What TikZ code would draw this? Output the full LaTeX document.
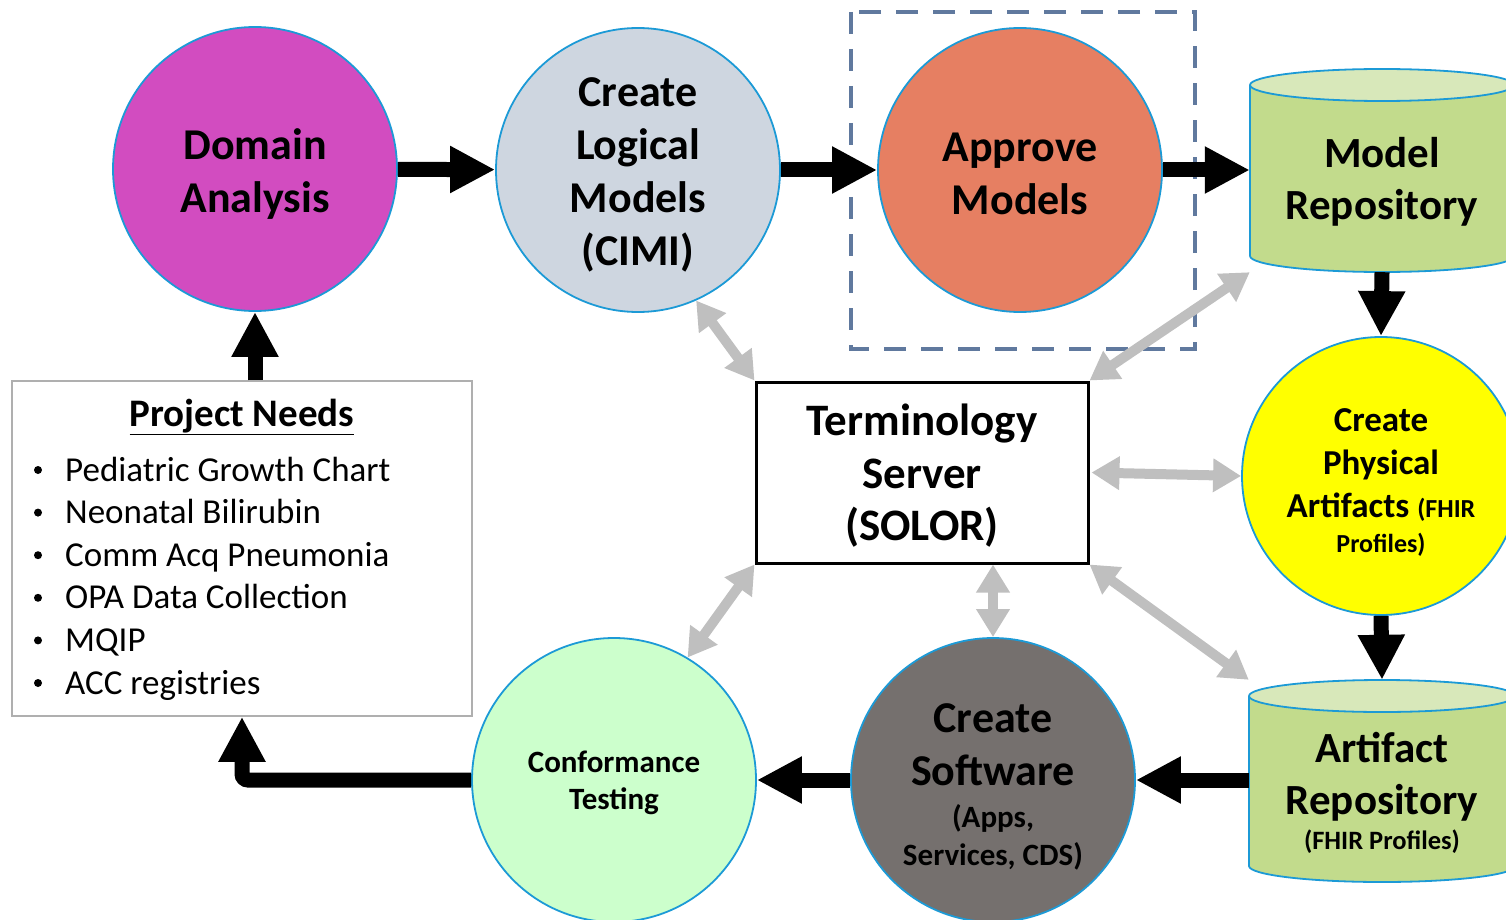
\documentclass[tikz,border=0pt]{standalone}
\usepackage{fontspec}
\setmainfont{Carlito}
\usetikzlibrary{arrows.meta,calc}

\definecolor{edgeblue}{RGB}{28,154,214}
\definecolor{dompink}{RGB}{210,76,192}
\definecolor{logicgrey}{RGB}{206,214,224}
\definecolor{approvesalmon}{RGB}{230,127,98}
\definecolor{physyellow}{RGB}{255,255,0}
\definecolor{softgrey}{RGB}{117,112,110}
\definecolor{confgreen}{RGB}{204,255,204}
\definecolor{cylbody}{RGB}{194,219,140}
\definecolor{cyltop}{RGB}{216,232,186}
\definecolor{dashblue}{RGB}{96,121,158}
\definecolor{linkgrey}{RGB}{191,191,191}
\definecolor{boxgrey}{RGB}{175,175,175}

\tikzset{
  stage/.style={circle, draw=edgeblue, line width=1.8pt, minimum size=284pt, inner sep=0pt},
  stagetext/.style={align=center, inner sep=0pt, font=\bfseries\fontsize{44}{53}\selectfont},
  flow/.style={line width=15pt, -{Triangle[length=45pt,width=44pt]}},
  link/.style={line width=10pt, draw=linkgrey,
    {Triangle[length=28pt,width=32pt]}-{Triangle[length=28pt,width=32pt]}},
  cylside/.style={draw=edgeblue, line width=1.8pt},
  needitem/.style={anchor=base west, inner sep=0pt, font=\fontsize{35}{42}\selectfont},
  needdot/.style={circle, fill=black, inner sep=0pt, minimum size=8pt},
}

\begin{document}
\begin{tikzpicture}[x=1pt, y=-1pt]
\useasboundingbox (0,0) rectangle (1506,920);

% ---------- repository cylinders ----------
\fill[cylbody] (1250,85) -- (1250,256)
  arc[start angle=180, end angle=0, x radius=132, y radius=16] -- (1514,85) -- cycle;
\draw[cylside] (1250,85) -- (1250,256)
  arc[start angle=180, end angle=0, x radius=132, y radius=16] -- (1514,85);
\draw[cylside, fill=cyltop] (1382,85) ellipse [x radius=132, y radius=16];
\node[minimum width=264pt, minimum height=202pt, inner sep=0pt] (mrepo) at (1382,171) {};
\node[stagetext, font=\bfseries\fontsize{43}{52}\selectfont] (mrepo-label) at (1382,182) {Model\\Repository};

\fill[cylbody] (1249,696) -- (1249,866)
  arc[start angle=180, end angle=0, x radius=133, y radius=16] -- (1515,696) -- cycle;
\draw[cylside] (1249,696) -- (1249,866)
  arc[start angle=180, end angle=0, x radius=133, y radius=16] -- (1515,696);
\draw[cylside, fill=cyltop] (1382,696) ellipse [x radius=133, y radius=16];
\node[minimum width=266pt, minimum height=202pt, inner sep=0pt] (arepo) at (1382,781) {};
\node[stagetext, font=\bfseries\fontsize{43}{52}\selectfont] (arepo-label) at (1382,792.5)
  {Artifact\\Repository\\[-17pt]\fontsize{26.5}{30}\selectfont (FHIR Profiles)};

% ---------- process stages ----------
\node[stage, fill=dompink] (dom) at (255,169) {};
\node[stagetext] (dom-label) at (255,174) {Domain\\Analysis};
\node[stage, fill=logicgrey] (clm) at (638,170) {};
\node[stagetext] (clm-label) at (638,175) {Create\\Logical\\Models\\(CIMI)};
\node[stage, fill=approvesalmon] (appr) at (1020,170) {};
\node[stagetext] (appr-label) at (1020,174) {Approve\\Models};
\node[stage, fill=physyellow, minimum size=278pt] (cpa) at (1381,476) {};
\node[stagetext, font=\bfseries\fontsize{35}{43}\selectfont] (cpa-label) at (1381,482)
  {Create\\Physical\\Artifacts {\fontsize{26}{30}\selectfont (FHIR}\\[-8pt]\fontsize{26}{30}\selectfont Profiles)};
\node[stage, fill=softgrey] (cs) at (993,780) {};
\node[stagetext, font=\bfseries\fontsize{44}{53}\selectfont] (cs-label) at (993,787)
  {Create\\Software\\[-11pt]\fontsize{31}{37}\selectfont (Apps,\\[-15pt]\fontsize{31}{37}\selectfont Services, CDS)};
\node[stage, fill=confgreen] (ct) at (614,780) {};
\node[stagetext, font=\bfseries\fontsize{31}{37}\selectfont] (ct-label) at (614,783) {Conformance\\Testing};

% ---------- approval boundary ----------
\draw[dashblue, line width=4pt, dash pattern=on 22pt off 15pt]
  (851,12) rectangle (1195,349);

% ---------- terminology server ----------
\node[draw=black, line width=3pt, fill=white, minimum width=332pt, minimum height=181pt]
  (term) at (922,472.5) {};
\node[stagetext, font=\bfseries\fontsize{45}{52.5}\selectfont] (term-label) at (922,476)
  {Terminology\\Server\\(SOLOR)};

% ---------- project needs ----------
\node[draw=boxgrey, line width=1.5pt, minimum width=460pt, minimum height=335pt, inner sep=0pt]
  (pn) at (242,548.5) {};
\node[font=\bfseries\fontsize{39}{46}\selectfont, inner sep=0pt] (pn-title) at (242,417)
  {\underline{Project Needs}};
\foreach \txt [count=\i] in {Pediatric Growth Chart, Neonatal Bilirubin, Comm Acq Pneumonia,
    OPA Data Collection, MQIP, ACC registries} {
  \node[needitem] (need-\i) at (65, 481+42.6*\i-42.6) {\txt};
  \node[needdot] (dot-\i) at (38, 470+42.6*\i-42.6) {};
}

% ---------- main flow ----------
\draw[flow] (dom) -- (clm);
\draw[flow] (clm) -- (appr);
\draw[flow] (appr.east) -- (mrepo.west |- appr.east);
\draw[flow] (mrepo.south) -- (cpa.north);
\draw[flow] (cpa.south) -- (arepo.north);
\draw[flow] (arepo.west |- cs.east) -- (cs.east);
\draw[flow] (cs.west) -- (ct.east);
\draw[flow, rounded corners=6pt] (ct.west) -| (pn.south);
\draw[flow] (dom.south |- pn.north) -- (dom.south);

% ---------- terminology links ----------
\draw[link] (clm.-66) -- (term.north west);
\draw[link] (term.north east) -- (mrepo.south west);
\draw[link] ([xshift=2pt]term.east) -- (cpa.west);
\draw[link] (cs.north |- term.south) -- (cs.north);
\draw[link] (term.south east) -- (arepo.north west);
\draw[link] (term.south west) -- (ct.59);

\end{tikzpicture}
\end{document}
